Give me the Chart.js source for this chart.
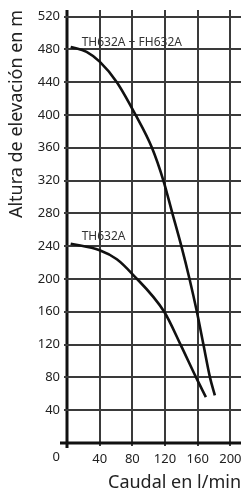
<!DOCTYPE html>
<html>
<head>
<meta charset="utf-8">
<script src="https://cdn.jsdelivr.net/npm/chart.js@4"></script>
<style>
  html, body { margin: 0; padding: 0; background: #fff; }
</style>
</head>
<body>
<canvas id="pumpChart" width="241" height="494"></canvas>
<script>
// curve readings (Caudal l/min -> Altura m)
const comboFlow = [4.5, 24, 40, 61, 84, 104, 118, 129, 140, 150, 159, 167, 175, 181];
const comboHead = [483, 477, 465, 440, 400, 360, 320, 280, 240, 200, 160, 120, 80, 58];
const singleFlow = [4.5, 40, 61, 80, 119, 139, 158, 170];
const singleHead = [243, 235, 224, 206, 160, 120, 80, 56];
const seriesNames = ["TH632A + FH632A", "TH632A"];
const xStep = 40;
const yStep = 40;

const tickFont = { family: "'Noto Sans'", size: 13 };
const textColor = "#222";

function toPoints(xs, ys) {
  return xs.map((x, i) => ({ x: x, y: ys[i] }));
}

// grid + axes from the scale ticks, as filled strips
function drawGrid(chart) {
  const ctx = chart.ctx;
  const a = chart.chartArea;
  const xs = chart.scales.x, ys = chart.scales.y;
  ctx.save();
  xs.ticks.forEach(t => {
    const px = Math.round(xs.getPixelForValue(t.value));
    const axis = t.value === 0;
    const w = axis ? 3 : 2;
    ctx.fillStyle = axis ? "#111" : "#3a3a3a";
    ctx.fillRect(px - w / 2, a.top, w, a.bottom - a.top + (axis ? 5 : 3));
  });
  ys.ticks.forEach(t => {
    const py = Math.round(ys.getPixelForValue(t.value));
    const axis = t.value === 0;
    const w = axis ? 3 : 2;
    const x0 = a.left - (axis ? 7 : 3);
    ctx.fillStyle = axis ? "#111" : "#3a3a3a";
    ctx.fillRect(x0, py - w / 2, a.right - x0, w);
  });
  ctx.restore();
}

const gridPlugin = {
  id: "handGrid",
  beforeDatasetsDraw(chart) {
    drawGrid(chart);
  }
};

// curve names next to the start of each curve + the shared "0" in the corner
const labelPlugin = {
  id: "curveLabels",
  afterDraw(chart, args, opts) {
    const ctx = chart.ctx;
    ctx.save();
    ctx.fillStyle = "#333";
    ctx.font = "12px 'Noto Sans'";
    ctx.textAlign = "left";
    ctx.textBaseline = "middle";
    chart.data.datasets.forEach((ds, i) => {
      const pt = chart.getDatasetMeta(i).data[0];
      const off = opts.offsets[i];
      ctx.fillText(ds.label, pt.x + off[0], pt.y + off[1]);
    });
    const xs = chart.scales.x, ys = chart.scales.y;
    ctx.fillStyle = textColor;
    ctx.font = "13px 'Noto Sans'";
    ctx.textAlign = "right";
    ctx.textBaseline = "top";
    ctx.fillText("0", ys.right - 7, xs.top + 8);
    ctx.restore();
  }
};

function noPad(s) {
  s.paddingLeft = 0; s.paddingRight = 0; s.paddingTop = 0; s.paddingBottom = 0;
}

new Chart(document.getElementById("pumpChart"), {
  type: "line",
  data: {
    datasets: [{
      label: seriesNames[0],
      data: toPoints(comboFlow, comboHead),
      borderColor: "#111",
      borderWidth: 2.6,
      pointRadius: 0,
      cubicInterpolationMode: "monotone",
      fill: false
    }, {
      label: seriesNames[1],
      data: toPoints(singleFlow, singleHead),
      borderColor: "#111",
      borderWidth: 2.6,
      pointRadius: 0,
      cubicInterpolationMode: "monotone",
      fill: false
    }]
  },
  options: {
    responsive: false,
    animation: false,
    layout: { padding: { top: 10, right: 0, left: 0, bottom: 0 } },
    plugins: {
      legend: { display: false },
      tooltip: { enabled: false },
      curveLabels: { offsets: [[11, -4], [11, -7]] }
    },
    scales: {
      x: {
        type: "linear",
        min: 0,
        max: 213,
        afterFit: (s) => { s.height = 51; noPad(s); },
        border: { display: false },
        grid: { display: false, tickLength: 0 },
        ticks: {
          stepSize: xStep,
          includeBounds: false,
          font: tickFont,
          color: textColor,
          padding: 8,
          maxRotation: 0,
          callback: (v) => v === 0 ? "" : v
        },
        title: {
          display: true,
          text: "Caudal en l/min",
          align: "end",
          color: textColor,
          font: { family: "'Noto Sans'", size: 18 },
          padding: { top: 0, bottom: 0 }
        }
      },
      y: {
        min: 0,
        max: 528,
        afterFit: (s) => { s.width = 67; noPad(s); },
        border: { display: false },
        grid: { display: false, tickLength: 0 },
        ticks: {
          stepSize: yStep,
          includeBounds: false,
          font: tickFont,
          color: textColor,
          padding: 7,
          callback: (v) => v === 0 ? "" : v
        },
        title: {
          display: true,
          text: "Altura de elevación en m",
          align: "end",
          color: textColor,
          font: { family: "'Noto Sans'", size: 18 },
          padding: { top: 6, bottom: 0 }
        }
      }
    }
  },
  plugins: [gridPlugin, labelPlugin]
});
</script>
</body>
</html>
